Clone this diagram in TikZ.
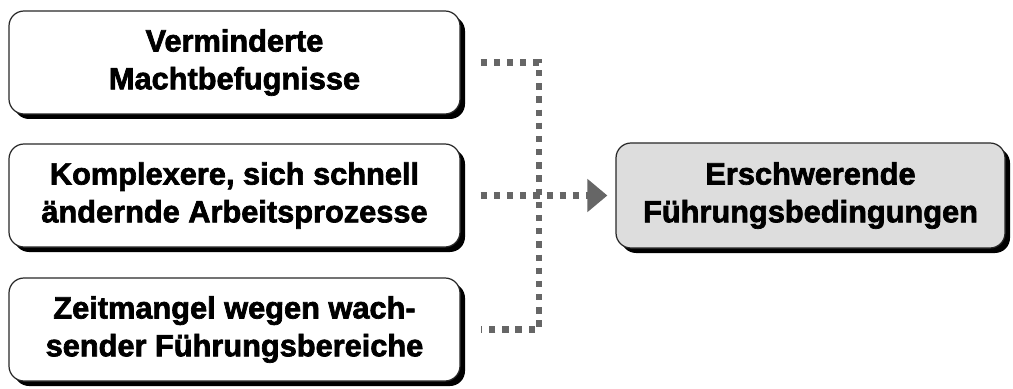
\documentclass[tikz,border=0pt]{standalone}
\usepackage{fontspec}
\setmainfont{Liberation Sans}[BoldFeatures={FakeBold=2.2}]
\usepackage{xcolor}
\usetikzlibrary{shadows,arrows.meta}
\definecolor{dots}{RGB}{102, 102, 102}
\definecolor{resfill}{RGB}{221, 221, 221}
\definecolor{edge}{RGB}{40, 40, 40}

\begin{document}
\begin{tikzpicture}[
        cause/.style={draw=edge, line width=0.7pt, fill=white, rounded corners=0.3cm,
            minimum width=9.02cm, minimum height=2.06cm, align=center,
            font=\fontsize{17.5}{21.5}\selectfont\bfseries,
            drop shadow={shadow xshift=0.1cm, shadow yshift=-0.1cm, fill=black, opacity=1}},
        result/.style={cause, fill=resfill, minimum width=7.78cm, minimum height=2.1cm},
        link/.style={draw=dots, line width=3.6pt, dash pattern=on 3.6pt off 3.9pt}
    ]
        \useasboundingbox (0, 0) rectangle (20.26, 7.76);
        \node[cause] (b1) at (4.69, 6.51) {Verminderte\\Machtbefugnisse};
        \node[cause] (b2) at (4.69, 3.85) {Komplexere, sich schnell\\ändernde Arbeitsprozesse};
        \node[cause] (b3) at (4.69, 1.17) {Zeitmangel wegen wach-\\sender Führungsbereiche};
        \node[result] (res) at (16.21, 3.85) {Erschwerende\\Führungsbedingungen};
        \coordinate (j) at (10.78, 3.85);
        \draw[link, shorten <=0.4cm, shorten >=0.4cm] (b1.east) -- (b1.east -| j) -- (b3.east -| j) -- (b3.east);
        \draw[link, shorten <=0.4cm, shorten >=0.16cm, -{Triangle[length=0.4cm, width=0.64cm]}] (b2.east) -- (res.west);
    \end{tikzpicture}
\end{document}
